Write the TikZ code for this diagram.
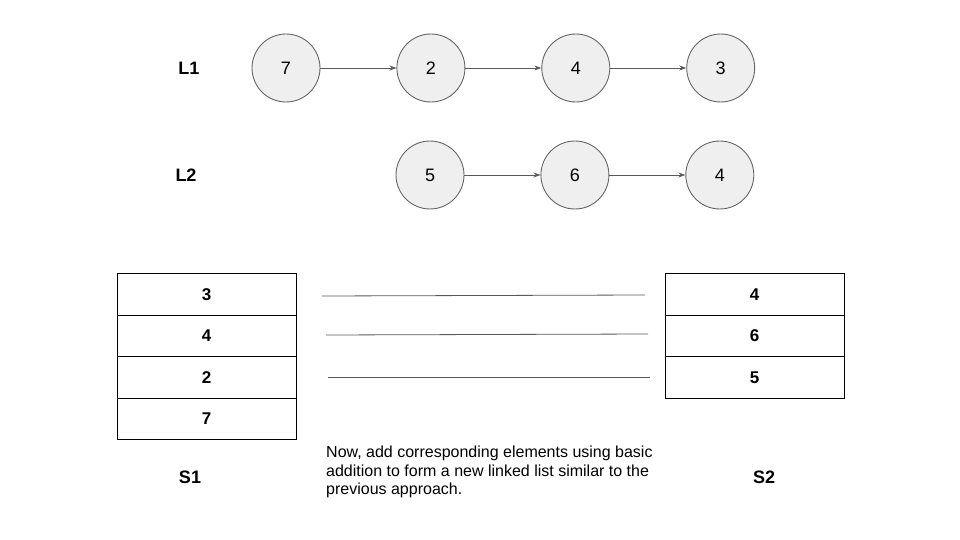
\documentclass[tikz,border=0pt]{standalone}
\usepackage{fontspec}
\setmainfont{Liberation Sans}
\usetikzlibrary{arrows.meta, positioning}
\definecolor{nodegray}{RGB}{239, 239, 239}
\definecolor{edgegray}{RGB}{102, 102, 102}
\definecolor{linkgray}{RGB}{89, 89, 89}
\tikzset{
  listnode/.style={circle, draw=edgegray, fill=nodegray, line width=0.9pt,
                   minimum size=68pt, inner sep=0pt,
                   font=\fontsize{18}{20}\selectfont},
  link/.style={-{Stealth[length=7pt,width=5pt]}, linkgray, line width=0.8pt},
  cell/.style={rectangle, draw=black, line width=1pt, outer sep=0pt,
               minimum width=179pt, minimum height=41.5pt, inner sep=0pt,
               font=\fontsize{17}{19}\selectfont\bfseries},
  tag/.style={font=\fontsize{18}{20}\selectfont\bfseries},
  guide/.style={linkgray, line width=0.8pt}
}
\begin{document}
\begin{tikzpicture}[x=1pt, y=-1pt]
  \useasboundingbox (0,0) rectangle (960,540);
  %---- List L1 ---------------------------------------------------------------
  \node[tag] (tagL1) at (189,68) {L1};
  \node[listnode] (a1) at (286,68) {7};
  \node[listnode, right=76pt of a1] (a2) {2};
  \node[listnode, right=76pt of a2] (a3) {4};
  \node[listnode, right=76pt of a3] (a4) {3};
  \draw[link] (a1) -- (a2);
  \draw[link] (a2) -- (a3);
  \draw[link] (a3) -- (a4);
  %---- List L2 ---------------------------------------------------------------
  \node[tag] (tagL2) at (186,175) {L2};
  \node[listnode] (b1) at (430,175) {5};
  \node[listnode, right=76pt of b1] (b2) {6};
  \node[listnode, right=76pt of b2] (b3) {4};
  \draw[link] (b1) -- (b2);
  \draw[link] (b2) -- (b3);
  %---- Stack S1 --------------------------------------------------------------
  \node[cell] (s1a) at (206.5,294.5) {3};
  \node[cell, below=0pt of s1a] (s1b) {4};
  \node[cell, below=0pt of s1b] (s1c) {2};
  \node[cell, below=0pt of s1c] (s1d) {7};
  \node[tag] (tagS1) at (190,477) {S1};
  %---- Stack S2 --------------------------------------------------------------
  \node[cell] (s2a) at (754.5,294.5) {4};
  \node[cell, below=0pt of s2a] (s2b) {6};
  \node[cell, below=0pt of s2b] (s2c) {5};
  \node[tag] (tagS2) at (764,477) {S2};
  %---- Guide lines between the stacks ----------------------------------------
  \coordinate (g1l) at (322,296);
  \coordinate (g1r) at (645,295);
  \coordinate (g2l) at (326,335);
  \coordinate (g2r) at (648,334);
  \coordinate (g3l) at (328,377);
  \coordinate (g3r) at (650,377);
  \draw[guide] (g1l) -- (g1r);
  \draw[guide] (g2l) -- (g2r);
  \draw[guide] (g3l) -- (g3r);
  %---- Note ------------------------------------------------------------------
  \node[anchor=north west, inner sep=0pt, align=left,
        font=\fontsize{16}{18.5}\selectfont] (note) at (326,446)
    {Now, add corresponding elements using basic\\
     addition to form a new linked list similar to the\\
     previous approach.};
\end{tikzpicture}
\end{document}
